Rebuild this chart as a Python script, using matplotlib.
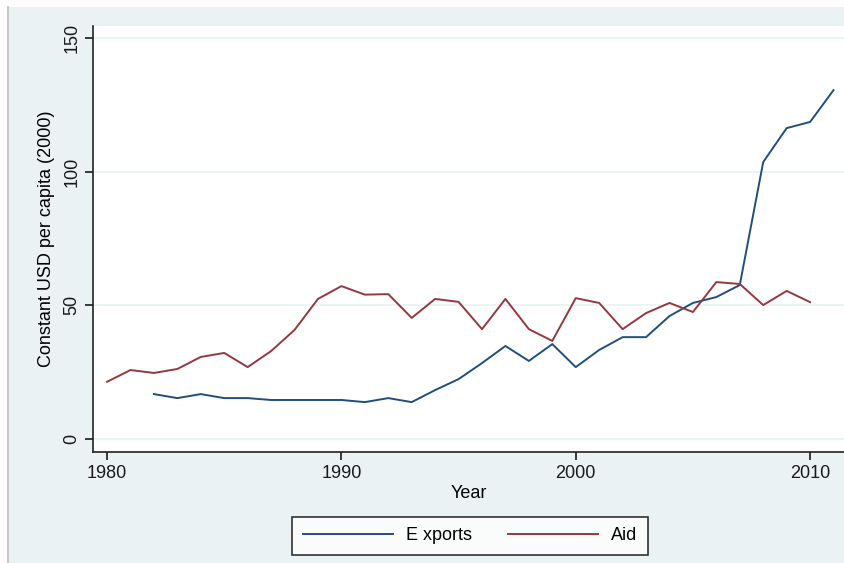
import matplotlib
matplotlib.use("Agg")
import matplotlib.pyplot as plt
from matplotlib.patches import Rectangle

plt.rcParams['font.family'] = ['Liberation Sans', 'DejaVu Sans']

# per-capita series, constant 2000 USD
years_exp = list(range(1982, 2012))
exports = [16.8, 15.3, 16.8, 15.3, 15.3, 14.6, 14.6, 14.6, 14.6, 13.8,
           15.3, 13.8, 18.3, 22.4, 28.4, 34.8, 29.2, 35.5, 26.9, 33.3,
           38.1, 38.1, 46.0, 50.9, 53.1, 57.6, 103.6, 116.3, 118.6, 130.5]

years_aid = list(range(1980, 2011))
aid = [21.4, 25.8, 24.7, 26.2, 30.7, 32.2, 26.9, 32.9, 40.8, 52.4,
       57.2, 54.0, 54.2, 45.3, 52.4, 51.3, 41.1, 52.4, 41.1, 36.7,
       52.7, 50.9, 41.1, 47.1, 50.9, 47.5, 58.7, 58.0, 50.1, 55.4, 51.2]

x_ticks = [1980, 1990, 2000, 2010]
y_ticks = [0, 50, 100, 150]

BG = "#eaf2f3"
NAVY = "#1f4f7a"
MAROON = "#94383e"

fig = plt.figure(figsize=(8.45, 5.63), dpi=100)
fig.patch.set_facecolor("white")
# outer graph region with thin border on the left
fig.add_artist(Rectangle((8 / 845, 0), 1 - 8 / 845, 1 - 7 / 563,
                         transform=fig.transFigure, facecolor=BG,
                         edgecolor="none", zorder=-10))
fig.add_artist(plt.Line2D([8 / 845, 8 / 845], [0, 1 - 7 / 563],
                          transform=fig.transFigure, color="#c8c8c8",
                          lw=1.5, zorder=-9))

ax = fig.add_axes([93 / 845, 1 - 452 / 563, 1 - 93 / 845, (452 - 26) / 563])
ax.set_facecolor("white")

for v in y_ticks:
    ax.axhline(v, color=BG, lw=1.2, zorder=1)

ax.plot(years_exp, exports, color=NAVY, lw=1.4, label="E xports", zorder=3)
ax.plot(years_aid, aid, color=MAROON, lw=1.4, label="Aid", zorder=3)

ax.set_xlim(1979.40, 2011.49)
ax.set_ylim(-4.86, 154.5)
ax.set_xticks(x_ticks)
ax.set_yticks(y_ticks)
ax.tick_params(axis="both", direction="out", length=6, width=1.2,
               labelsize=13, colors="#1a1a1a")
ax.tick_params(axis="y", labelrotation=90, pad=3)
for lab in ax.get_yticklabels():
    lab.set_va("center")

for side in ("top", "right"):
    ax.spines[side].set_visible(False)
for side in ("left", "bottom"):
    ax.spines[side].set_color("#222222")
    ax.spines[side].set_linewidth(1.2)

ax.set_xlabel("Year", fontsize=13, labelpad=2)
ax.set_ylabel("Constant USD per capita (2000)", fontsize=13, labelpad=6)

leg = fig.legend(loc="center", bbox_to_anchor=(470 / 845, 1 - 536 / 563),
                 ncol=2, fontsize=13, frameon=True, fancybox=False,
                 edgecolor="black", handlelength=5.0, handletextpad=0.7,
                 columnspacing=2.0, borderpad=0.6)
leg.get_frame().set_linewidth(1.2)
leg.get_frame().set_facecolor("white")

fig.savefig("out.png", dpi=100, facecolor=fig.get_facecolor())
